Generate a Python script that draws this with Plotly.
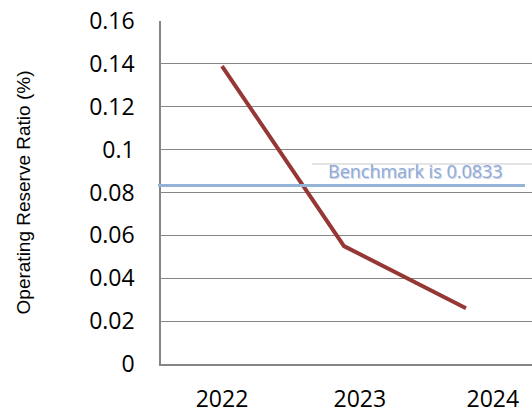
import plotly.graph_objects as go

# Operating reserve ratio by fiscal year
years = [2022, 2023, 2024]
ratio = [0.139, 0.055, 0.026]
year_labels = ["2022", "2023", "2024"]
label_pos = [2022, 2023.13, 2024.22]

benchmark = 0.0833
y_ticks = [0, 0.02, 0.04, 0.06, 0.08, 0.1, 0.12, 0.14, 0.16]
y_tick_text = ["0", "0.02", "0.04", "0.06", "0.08", "0.1", "0.12", "0.14", "0.16"]

grid_color = "#868686"
caption = f"Benchmark is {benchmark}"
tick_font = dict(family="Open Sans", size=23, color="#000000")

fig = go.Figure()
fig.add_trace(go.Scatter(
    x=years, y=ratio, mode="lines",
    line=dict(color="#953735", width=4),
    showlegend=False, hoverinfo="x+y",
))

fig.update_layout(
    width=532, height=413,
    margin=dict(l=161, r=0, t=21, b=49),
    paper_bgcolor="white", plot_bgcolor="white",
    font=dict(family="Open Sans", size=20, color="#000000"),
    xaxis=dict(
        range=[2021.5, 2024.541],
        tickvals=label_pos, ticktext=year_labels, tickfont=tick_font,
        showgrid=False, zeroline=False,
        showline=True, linecolor=grid_color, linewidth=1.5,
        ticks="", ticklabelstandoff=14,
    ),
    yaxis=dict(
        range=[0, 0.16],
        tickvals=y_ticks, ticktext=y_tick_text, tickfont=tick_font,
        showgrid=True, gridcolor=grid_color, gridwidth=1.2,
        zeroline=False,
        showline=True, linecolor=grid_color, linewidth=1.5,
        ticks="", ticklabelstandoff=20,
        title=dict(text="Operating Reserve Ratio (%)",
                   font=dict(family="Liberation Sans", size=19), standoff=54),
    ),
    shapes=[
        # light rule above the benchmark caption
        dict(type="line", xref="paper", yref="y", x0=0.407, x1=1.0,
             y0=0.0933, y1=0.0933, line=dict(color="#c8c8c8", width=1)),
        # benchmark level
        dict(type="line", xref="paper", yref="y", x0=-0.008, x1=0.981,
             y0=benchmark, y1=benchmark, line=dict(color="#95b3d7", width=3)),
    ],
    annotations=[
        # soft shadow behind the caption
        dict(xref="paper", yref="y", x=0.687, y=benchmark, xanchor="center",
             xshift=1, yshift=13, text=caption, showarrow=False,
             font=dict(family="Open Sans", size=18, color="#d0d4dc")),
        dict(xref="paper", yref="y", x=0.687, y=benchmark, xanchor="center",
             yshift=14, text=caption, showarrow=False,
             font=dict(family="Open Sans", size=18, color="#8eaadb")),
    ],
)

fig.write_html("out.html")
